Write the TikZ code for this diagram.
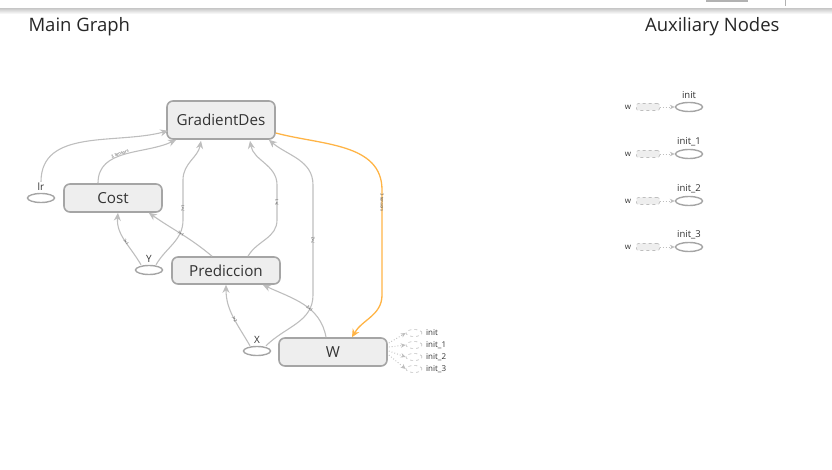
\documentclass[tikz,border=0pt]{standalone}
\usepackage{fontspec}
\setmainfont{Open Sans}
\usetikzlibrary{arrows.meta,calc,shapes.geometric}
\definecolor{edgegray}{RGB}{190,190,190}
\definecolor{nodeborder}{RGB}{165,165,165}
\definecolor{nodefill}{RGB}{238,238,238}
\definecolor{txt}{RGB}{51,51,51}
\definecolor{orangeedge}{RGB}{255,180,70}
\begin{document}
\begin{tikzpicture}[x=1pt,y=1pt,
  opnode/.style={draw=nodeborder,fill=nodefill,line width=1.6pt,rounded corners=6pt,
    inner sep=0pt,font=\fontsize{15.2}{17}\selectfont,text=txt},
  varnode/.style={draw=nodeborder,ellipse,line width=1.4pt,minimum width=27pt,minimum height=9pt,inner sep=0pt,fill=white},
  dashell/.style={draw=edgegray,dashed,ellipse,line width=0.6pt,minimum width=16pt,minimum height=7pt,inner sep=0pt},
  lab/.style={font=\fontsize{10}{11}\selectfont,text=txt,inner sep=0pt},
  smalllab/.style={font=\fontsize{8}{9}\selectfont,text=txt,inner sep=0pt,anchor=west},
  edge/.style={draw=edgegray,line width=1.1pt,-{Stealth[length=8pt,width=7pt]}},
  oedge/.style={draw=orangeedge,line width=1.3pt,-{Stealth[length=8pt,width=7.5pt]}},
  dedge/.style={draw=edgegray,dotted,line width=0.9pt,-{Stealth[length=5pt,width=4.5pt]}},
  elab/.style={font=\fontsize{4.2}{4.5}\selectfont,text=black!70,inner sep=0.3pt,sloped}
]
\useasboundingbox (0,0) rectangle (832,-470);
% header shadow
\shade[top color=gray!45,bottom color=white] (0,-8) rectangle (832,-14);
\fill[white] (0,0) rectangle (832,-8);
\draw[gray!60,line width=0.5pt] (706,0) rectangle (747,-1);
\draw[gray!60,line width=0.5pt] (785,0) -- (785,-6);

% titles
\node[font=\fontsize{18.5}{20}\selectfont,text=black!85,anchor=west] (tmain) at (25,-27) {Main Graph};
\node[font=\fontsize{18.5}{20}\selectfont,text=black!85,anchor=east] (taux) at (783,-27) {Auxiliary Nodes};

% main nodes
\node[opnode,minimum width=108pt,minimum height=38pt] (gd) at (221,-120) {GradientDes};
\node[opnode,minimum width=98pt,minimum height=28pt] (cost) at (113,-198) {Cost};
\node[opnode,minimum width=108pt,minimum height=27pt] (pred) at (226,-270.5) {Prediccion};
\node[opnode,minimum width=108pt,minimum height=28pt] (w) at (333,-352) {W};
\node[varnode] (lr) at (41,-198) {};
\node[varnode] (y) at (149,-270) {};
\node[varnode] (x) at (257,-351) {};
\node[lab,anchor=south] (lrl) at ($(lr.north)+(0,2)$) {lr};
\node[lab,anchor=south] (yl) at ($(y.north)+(0,2)$) {Y};
\node[lab,anchor=south] (xl) at ($(x.north)+(0,2)$) {X};

% edges
\draw[edge] ($(lrl.north)+(0,1)$) to[out=90,in=195] ($(gd.south west)+(2,9)$);
\draw[edge] ($(cost.north)+(-15,0)$) to[out=90,in=205] node[elab,pos=0.45,above=-0.5pt] {3 tensors} ($(gd.south west)+(10,0)$);
\draw[edge] ($(y.north)+(-8,0)$) to[out=120,in=-95] node[elab,pos=0.45] {?×1} ($(cost.south)+(5,0)$);
\draw[edge] ($(y.north)+(7,0)$) to[out=60,in=-90] (183,-220) -- node[elab,pos=0.3] {?×1} (183,-180) to[out=90,in=-100] ($(gd.south)+(-20,-1)$);
\draw[edge] ($(pred.north)+(-14,0)$) to[out=140,in=-35] node[elab,pos=0.5] {?×1} ($(cost.south east)+(-14,0)$);
\draw[edge] ($(pred.north)+(22,0)$) to[out=60,in=-90] (277,-220) -- node[elab,pos=0.5] {?×1} (277,-185) to[out=90,in=-80] ($(gd.south)+(29,-1)$);
\draw[edge] ($(x.north)+(-7,0)$) to[out=120,in=-90] node[elab,pos=0.45] {?×2} (pred.south);
\draw[edge] ($(x.north)+(9,0)$) to[out=45,in=-90] (313,-295) -- node[elab,pos=0.5] {?×2} (313,-185) to[out=90,in=-40] ($(gd.south east)+(-7,0)$);
\draw[edge] ($(w.north)+(-7,0)$) to[out=100,in=-25] node[elab,pos=0.4] {2×1} ($(pred.south east)+(-18,0)$);
\draw[oedge] ($(gd.east)+(0,-13)$) to[out=-15,in=90] (382,-190) -- node[elab,pos=0.12] {3 tensors} (382,-295) to[out=-90,in=60] ($(w.north)+(19,0)$);

% W init edges
\foreach \i/\yy/\t in {0/-333/init,1/-345/init\_1,2/-357/init\_2,3/-369/init\_3}{
  \node[dashell] (wi\i) at (414,\yy) {};
  \node[smalllab] (wil\i) at (426,\yy) {\t};
  \draw[dedge] ($(w.east)+(1,9-4*\i)$) -- (wi\i.west);
}

% auxiliary nodes
\foreach \i/\yy/\t in {0/-107/init,1/-154/init\_1,2/-201/init\_2,3/-247/init\_3}{
  \node[varnode] (ai\i) at (689,\yy) {};
  \node[font=\fontsize{9.5}{10}\selectfont,text=txt,anchor=south,inner sep=0pt] (ail\i) at ($(ai\i.north)+(0,3)$) {\t};
  \node[draw=edgegray,dashed,fill=nodefill,rounded corners=2pt,minimum width=23pt,minimum height=7pt,inner sep=0pt,line width=0.6pt] (aw\i) at (648,\yy) {};
  \node[font=\fontsize{8}{9}\selectfont,text=txt,inner sep=0pt] (awl\i) at (628,\yy) {w};
  \draw[dedge] (aw\i.east) -- (ai\i.west);
}
\end{tikzpicture}
\end{document}
